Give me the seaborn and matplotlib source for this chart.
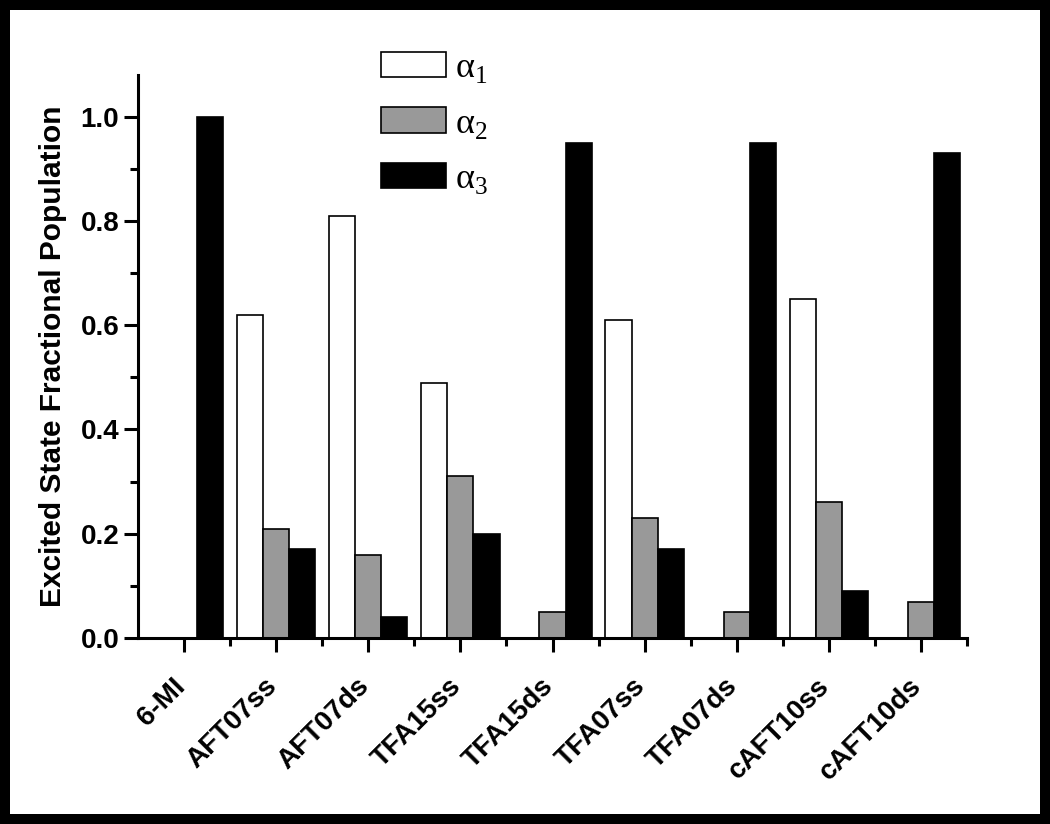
"""Excited state fractional populations (alpha1..alpha3) for the 6-MI probe samples."""
import matplotlib
matplotlib.use('Agg')
import matplotlib.pyplot as plt
import matplotlib.transforms as mtransforms
import pandas as pd
import seaborn as sns

samples = ['6-MI', 'AFT07ss', 'AFT07ds', 'TFA15ss', 'TFA15ds',
           'TFA07ss', 'TFA07ds', 'cAFT10ss', 'cAFT10ds']
alpha1 = [0.00, 0.62, 0.81, 0.49, 0.00, 0.61, 0.00, 0.65, 0.00]
alpha2 = [0.00, 0.21, 0.16, 0.31, 0.05, 0.23, 0.05, 0.26, 0.07]
alpha3 = [1.00, 0.17, 0.04, 0.20, 0.95, 0.17, 0.95, 0.09, 0.93]
components = ['a1', 'a2', 'a3']
legend_labels = [r'α$_\mathregular{1}$', r'α$_\mathregular{2}$', r'α$_\mathregular{3}$']

df = pd.DataFrame({'sample': samples, 'a1': alpha1, 'a2': alpha2, 'a3': alpha3})
df = df.melt(id_vars='sample', var_name='component', value_name='fraction')

sns.set_style('ticks', rc={'text.color': 'black', 'axes.labelcolor': 'black',
                           'xtick.color': 'black', 'ytick.color': 'black',
                           'axes.edgecolor': 'black'})
plt.rcParams['font.family'] = ['Liberation Sans', 'DejaVu Sans']
plt.rcParams['font.weight'] = 'bold'

fig = plt.figure(figsize=(10.5, 8.24), dpi=100)
fig.patch.set_edgecolor('black')
fig.patch.set_linewidth(14.4)
ax = fig.add_axes([138 / 1050, 1 - 638 / 824, (967 - 138) / 1050, (638 - 75) / 824])

sns.barplot(data=df, x='sample', y='fraction', hue='component', hue_order=components,
            order=samples, palette=['white', '#999999', 'black'], edgecolor='black',
            linewidth=1.2, width=0.85, gap=0, ax=ax, legend=True)

ax.set_xlim(-0.5, 8.5)
ax.set_ylim(0, 1.08)
ax.set_yticks([0.0, 0.2, 0.4, 0.6, 0.8, 1.0])
ax.set_yticks([0.1, 0.3, 0.5, 0.7, 0.9], minor=True)
ax.set_xticks([i + 0.5 for i in range(9)], minor=True)
ax.set_yticklabels(['0.0', '0.2', '0.4', '0.6', '0.8', '1.0'])

for side in ['top', 'right']:
    ax.spines[side].set_visible(False)
for side in ['left', 'bottom']:
    ax.spines[side].set_linewidth(2.2)

ax.tick_params(axis='both', which='major', length=10, width=2.2, labelsize=20)
ax.tick_params(axis='both', which='minor', length=5.5, width=2.2)
ax.tick_params(axis='x', which='major', pad=22)
shift = mtransforms.ScaledTranslation(-0.03, 0, fig.dpi_scale_trans)
for lab in ax.get_xticklabels():
    lab.set_rotation(45)
    lab.set_ha('right')
    lab.set_va('center')
    lab.set_rotation_mode('anchor')
    lab.set_fontweight('bold')
    lab.set_transform(lab.get_transform() + shift)
plt.setp(ax.get_yticklabels(), fontweight='bold')

ax.set_xlabel('')
ax.set_ylabel('Excited State Fractional Population', fontsize=21.5, fontweight='bold',
              labelpad=10)

handles, _ = ax.get_legend_handles_labels()
ax.legend(handles, legend_labels, loc='upper left',
          bbox_to_anchor=(381 / 1050, 1 - 52 / 824), bbox_transform=fig.transFigure,
          frameon=False, borderpad=0, borderaxespad=0,
          prop={'family': 'Liberation Serif', 'size': 26, 'weight': 'normal'},
          handlelength=1.8, handleheight=0.7, handletextpad=0.25, labelspacing=0.61)

fig.savefig('out.png', dpi=100, edgecolor=fig.get_edgecolor())
